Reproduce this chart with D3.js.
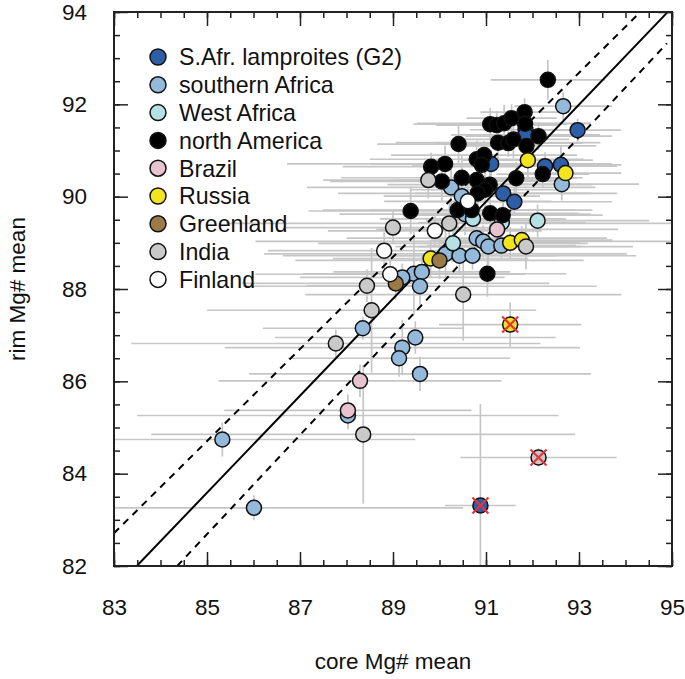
<!DOCTYPE html>
<html>
<head>
<meta charset="utf-8">
<script src="https://cdn.jsdelivr.net/npm/d3@7"></script>
<style>
  body { margin: 0; background: #fff; }
  text { font-family: "Liberation Sans", Arial, Helvetica, sans-serif; fill: #111; }
</style>
</head>
<body>
<svg id="chart" width="685" height="679"></svg>
<script>
// each point: [core Mg#, rim Mg#, core err, rim err]
const lamproites = [
  [91.85, 91.45, 1.2, 0.3], [91.85, 91.34, 1.6, 0.3], [92.97, 91.44, 0.93, 0.25],
  [91.11, 90.71, 2.6, 0.3], [92.27, 90.66, 1.55, 0.3], [92.61, 90.69, 1.3, 0.4],
  [91.37, 90.07, 1.9, 0.35], [91.61, 89.89, 2.1, 0.3], [90.88, 83.31, 0.76, 2.2]
];
const southernAfrica = [
  [92.66, 91.96, 1.05, 0.3], [92.63, 90.27, 1.66, 0.35], [90.25, 90.20, 3.1, 0.4],
  [90.48, 90.01, 1.68, 0.5], [90.55, 89.62, 2.7, 0.45], [90.80, 89.10, 2.8, 0.4],
  [90.94, 89.03, 4.9, 0.35], [91.05, 88.92, 2.0, 0.4], [91.33, 88.94, 1.6, 0.3],
  [90.13, 88.76, 3.9, 0.5], [90.43, 88.72, 3.8, 0.4], [90.71, 88.72, 1.8, 0.3],
  [89.45, 88.33, 2.4, 0.9], [89.62, 88.37, 1.9, 0.4], [89.58, 88.06, 3.8, 0.4],
  [89.20, 88.25, 2.2, 0.3], [88.35, 87.15, 2.15, 0.25], [89.48, 86.95, 3.02, 0.35],
  [89.20, 86.73, 3.82, 0.6], [89.13, 86.50, 2.39, 0.4], [89.58, 86.16, 3.68, 0.37],
  [88.03, 85.26, 4.53, 0.3], [85.33, 84.74, 4.15, 0.37], [86.01, 83.26, 4.5, 0.27]
];
const westAfrica = [
  [92.11, 89.48, 2.4, 0.35], [90.72, 89.52, 2.0, 0.3], [90.29, 88.99, 2.9, 0.4],
  [91.34, 89.44, 1.8, 0.3]
];
const northAmerica = [
  [92.33, 92.53, 1.23, 0.43], [91.83, 91.83, 0.95, 0.3], [91.09, 91.57, 1.65, 0.35],
  [91.23, 91.55, 1.3, 0.3], [91.39, 91.59, 1.87, 0.4], [91.55, 91.70, 0.97, 0.3],
  [91.84, 91.58, 1.4, 0.3], [92.13, 91.31, 1.58, 0.3], [91.26, 91.17, 2.2, 0.35],
  [91.48, 91.16, 1.6, 0.3], [91.59, 91.24, 1.2, 0.4], [91.87, 91.10, 1.5, 0.3],
  [90.41, 91.14, 1.75, 0.45], [90.80, 90.81, 2.3, 0.4], [90.96, 90.90, 2.0, 0.3],
  [90.91, 90.69, 1.5, 0.35], [89.82, 90.65, 1.9, 0.3], [90.12, 90.71, 3.4, 0.4],
  [92.22, 90.49, 1.0, 0.3], [90.48, 90.41, 2.6, 0.5], [90.80, 90.36, 1.8, 0.35],
  [91.08, 90.26, 2.2, 0.3], [90.98, 90.15, 1.6, 0.4], [90.82, 90.07, 3.0, 0.3],
  [91.65, 90.40, 1.3, 0.35], [90.05, 90.33, 2.4, 0.45], [89.38, 89.69, 2.2, 0.5],
  [90.39, 89.71, 2.9, 0.4], [90.69, 89.71, 2.2, 0.35], [91.09, 89.64, 1.9, 0.3],
  [91.36, 89.60, 2.15, 0.35], [91.03, 88.33, 1.7, 0.5]
];
const brazil = [
  [91.24, 89.29, 2.6, 0.3], [88.29, 86.01, 3.04, 0.35], [88.03, 85.37, 2.66, 0.35]
];
const russia = [
  [91.90, 90.79, 1.4, 0.4], [92.71, 90.51, 1.2, 0.3], [91.52, 89.00, 1.5, 0.35],
  [91.77, 89.06, 1.95, 0.3], [89.81, 88.66, 2.1, 0.4], [91.52, 87.23, 1.53, 0.48]
];
const greenland = [
  [90.00, 88.62, 3.1, 0.4], [89.06, 88.12, 3.3, 0.35]
];
const india = [
  [89.76, 90.36, 2.26, 0.4], [90.21, 89.42, 4.8, 0.45], [89.00, 89.33, 2.3, 0.35],
  [91.86, 88.92, 2.3, 0.5], [88.44, 88.07, 1.3, 0.35], [88.54, 87.54, 3.54, 1.35],
  [87.77, 86.82, 4.4, 0.3], [90.51, 87.88, 3.4, 1.0], [88.36, 84.85, 4.56, 1.5],
  [92.13, 84.35, 1.68, 0.2]
];
const finland = [
  [90.61, 89.90, 1.8, 0.4], [89.90, 89.26, 2.3, 0.35], [88.81, 88.83, 2.5, 0.4],
  [88.94, 88.32, 2.9, 0.35]
];

const groupNames = ["S.Afr. lamproites (G2)", "southern Africa", "West Africa", "north America",
  "Brazil", "Russia", "Greenland", "India", "Finland"];
const groupColors = ["#2f5ea9", "#94b9da", "#b5e1e5", "#000000", "#e6c3cf",
  "#f2e41e", "#9c7a48", "#c9c9c9", "#ffffff"];
const groupData = [lamproites, southernAfrica, westAfrica, northAmerica, brazil,
  russia, greenland, india, finland];

// points crossed out in red
const flagged = [[91.52, 87.23], [92.13, 84.35], [90.88, 83.31]];

// regression line and its bounds, as end points [core, rim]
const fitLine = [[83.49, 82.0], [94.89, 93.98]];
const upperBound = [[83.0, 82.71], [94.30, 93.98]];
const lowerBound = [[84.36, 82.0], [94.89, 93.32]];

const xMajor = [83, 85, 87, 89, 91, 93, 95];
const yMajor = [82, 84, 86, 88, 90, 92, 94];
const xMinor = d3.range(83, 95.01, 0.5);
const yMinor = d3.range(82, 94.01, 0.5);

const margin = { top: 12, right: 13, bottom: 113, left: 114 };
const width = 685, height = 679;

const svg = d3.select("#chart");
const x = d3.scaleLinear().domain([83, 95]).range([margin.left, width - margin.right]);
const y = d3.scaleLinear().domain([82, 94]).range([height - margin.bottom, margin.top]);

svg.append("clipPath").attr("id", "plotclip")
  .append("rect")
  .attr("x", x(83)).attr("y", y(94))
  .attr("width", x(95) - x(83)).attr("height", y(82) - y(94));

const plot = svg.append("g").attr("clip-path", "url(#plotclip)");

// error bars
const allPoints = groupData.flat();
plot.append("g")
  .selectAll("line.h")
  .data(allPoints)
  .join("line")
  .attr("x1", (d) => x(d[0] - d[2]))
  .attr("x2", (d) => x(d[0] + d[2]))
  .attr("y1", (d) => y(d[1]))
  .attr("y2", (d) => y(d[1]))
  .attr("stroke", "#c6c6c6")
  .attr("stroke-width", 1.7);
plot.append("g")
  .selectAll("line.v")
  .data(allPoints)
  .join("line")
  .attr("x1", (d) => x(d[0]))
  .attr("x2", (d) => x(d[0]))
  .attr("y1", (d) => y(d[1] - d[3]))
  .attr("y2", (d) => y(d[1] + d[3]))
  .attr("stroke", "#c6c6c6")
  .attr("stroke-width", 1.7);

// regression lines
const line = d3.line().x((d) => x(d[0])).y((d) => y(d[1]));
plot.append("path").attr("d", line(fitLine))
  .attr("fill", "none").attr("stroke", "#000").attr("stroke-width", 2);
for (const b of [upperBound, lowerBound]) {
  plot.append("path").attr("d", line(b))
    .attr("fill", "none").attr("stroke", "#000").attr("stroke-width", 2)
    .attr("stroke-dasharray", "7,6");
}

// points, in legend order
groupData.forEach((pts, i) => {
  plot.append("g")
    .selectAll("circle")
    .data(pts)
    .join("circle")
    .attr("cx", (d) => x(d[0]))
    .attr("cy", (d) => y(d[1]))
    .attr("r", 7.5)
    .attr("fill", groupColors[i])
    .attr("stroke", "#111")
    .attr("stroke-width", 1.5);
});

// red crosses
const crosses = plot.append("g").attr("stroke", "#e8343a").attr("stroke-width", 2.2);
for (const [cx, cy] of flagged) {
  const px = x(cx), py = y(cy), s = 8;
  crosses.append("line").attr("x1", px - s).attr("y1", py - s).attr("x2", px + s).attr("y2", py + s);
  crosses.append("line").attr("x1", px - s).attr("y1", py + s).attr("x2", px + s).attr("y2", py - s);
}

// ticks (inward) on all four sides
function tickAxis(axis, values, size, transform) {
  const g = svg.append("g").attr("transform", transform)
    .call(axis.tickValues(values).tickSize(-size).tickFormat(""));
  g.select(".domain").remove();
  g.selectAll(".tick line").attr("stroke", "#222").attr("stroke-width", 1.5);
}
const bottomY = y(82), leftX = x(83), topY = y(94), rightX = x(95);
tickAxis(d3.axisBottom(x), xMinor, 6, `translate(0,${bottomY})`);
tickAxis(d3.axisBottom(x), xMajor, 14, `translate(0,${bottomY})`);
tickAxis(d3.axisTop(x), xMinor, 6, `translate(0,${topY})`);
tickAxis(d3.axisTop(x), xMajor, 14, `translate(0,${topY})`);
tickAxis(d3.axisLeft(y), yMinor, 6, `translate(${leftX},0)`);
tickAxis(d3.axisLeft(y), yMajor, 14, `translate(${leftX},0)`);
tickAxis(d3.axisRight(y), yMinor, 6, `translate(${rightX},0)`);
tickAxis(d3.axisRight(y), yMajor, 14, `translate(${rightX},0)`);

// tick labels
const xLab = svg.append("g").attr("transform", `translate(0,${bottomY})`)
  .call(d3.axisBottom(x).tickValues(xMajor).tickSize(0).tickPadding(33));
xLab.select(".domain").remove();
const yLab = svg.append("g").attr("transform", `translate(${leftX},0)`)
  .call(d3.axisLeft(y).tickValues(yMajor).tickSize(0).tickPadding(27));
yLab.select(".domain").remove();
svg.selectAll(".tick text")
  .attr("font-family", "Liberation Sans, Arial, sans-serif")
  .attr("font-size", 22.5)
  .attr("fill", "#111");

// frame
svg.append("rect")
  .attr("x", leftX).attr("y", topY)
  .attr("width", rightX - leftX).attr("height", bottomY - topY)
  .attr("fill", "none").attr("stroke", "#222").attr("stroke-width", 2);

// axis titles
svg.append("text")
  .attr("x", (leftX + rightX) / 2).attr("y", 669)
  .attr("text-anchor", "middle").attr("font-size", 22.5)
  .text("core Mg# mean");
svg.append("text")
  .attr("transform", `translate(25,${(topY + bottomY) / 2}) rotate(-90)`)
  .attr("text-anchor", "middle").attr("font-size", 22.5)
  .text("rim Mg# mean");

// legend
const legend = svg.append("g");
groupNames.forEach((name, i) => {
  const ly = 57 + i * 27.8;
  legend.append("circle")
    .attr("cx", 158).attr("cy", ly).attr("r", 8)
    .attr("fill", groupColors[i]).attr("stroke", "#111").attr("stroke-width", 1.5);
  legend.append("text")
    .attr("x", 179).attr("y", ly).attr("dy", "0.36em")
    .attr("font-size", 23.2)
    .text(name);
});
</script>
</body>
</html>
